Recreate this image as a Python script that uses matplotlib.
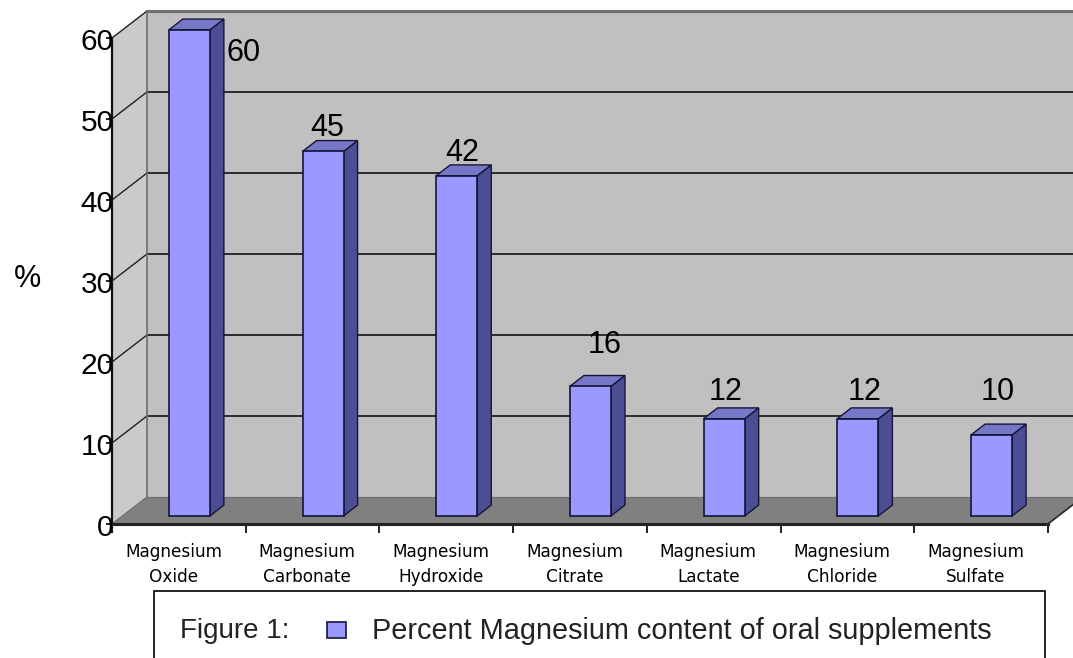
import matplotlib
matplotlib.use("Agg")
import matplotlib.pyplot as plt
from matplotlib.patches import Polygon, Rectangle

# ---------------- data ----------------
categories = ["Magnesium\nOxide", "Magnesium\nCarbonate", "Magnesium\nHydroxide",
              "Magnesium\nCitrate", "Magnesium\nLactate", "Magnesium\nChloride",
              "Magnesium\nSulfate"]
values = [60, 45, 42, 16, 12, 12, 10]
yticks = [0, 10, 20, 30, 40, 50, 60]
ylabel = "%"
legend_title = "Figure 1:"
legend_label = "Percent Magnesium content of oral supplements"

# ---------------- style ----------------
W, H = 1073, 658
PX0, PY0 = 112, 524          # pixel of (category 0, value 0)
PX_PER_CAT = 133.7
PX_PER_VAL = 8.1
DEPTH_PX = (35, 27)
DX = DEPTH_PX[0] / PX_PER_CAT
DY = DEPTH_PX[1] / PX_PER_VAL
BAR_W = 0.307
F0, F1 = 0.30, 0.70
YMAX = 60

C_BACK = "#c0c0c0"
C_LEFT = "#cacaca"
C_FLOOR = "#808080"
C_FRONT = "#9999ff"
C_SIDE = "#4d4d94"
C_TOP = "#7777c8"
C_EDGE = "#15153a"
C_GRID = "#202020"

label_offsets = [(54, -23), (4, 23), (5, 23), (14, 41), (1, 27), (7, 27), (6, 43)]

fig = plt.figure(figsize=(W / 100, H / 100), dpi=100)
ax = fig.add_axes([0, 0, 1, 1])
ax.set_xlim(-PX0 / PX_PER_CAT, (W - PX0) / PX_PER_CAT)
ax.set_ylim((PY0 - H) / PX_PER_VAL, PY0 / PX_PER_VAL)
ax.set_axis_off()

n = len(categories)

# back wall
ax.add_patch(Polygon([(DX, DY), (n + DX + 1, DY), (n + DX + 1, YMAX + DY), (DX, YMAX + DY)],
                     closed=True, facecolor=C_BACK, edgecolor="none", zorder=1))
# floor
ax.add_patch(Polygon([(0, 0), (n, 0), (n + DX, DY), (DX, DY)], closed=True,
                     facecolor=C_FLOOR, edgecolor="none", zorder=2))
# left wall
ax.add_patch(Polygon([(0, 0), (DX, DY), (DX, YMAX + DY), (0, YMAX)], closed=True,
                     facecolor=C_LEFT, edgecolor="none", zorder=2))

# gridlines on back wall and left wall
for v in yticks[1:-1]:
    ax.plot([DX, n + DX + 1], [v + DY, v + DY], color=C_GRID, lw=1.3, zorder=3)
for v in yticks[1:]:
    ax.plot([0, DX], [v, v + DY], color=C_GRID, lw=1.0, zorder=3)

# wall edges
ax.plot([DX, n + DX + 1], [YMAX + DY, YMAX + DY], color="#6e6e6e", lw=2.2, zorder=3)
ax.plot([DX, DX], [DY, YMAX + DY], color="#6e6e6e", lw=1.2, zorder=3)
ax.plot([0, DX], [0, DY], color="#707070", lw=1.0, zorder=3)
ax.plot([DX, n + DX], [DY, DY], color="#707070", lw=0.8, zorder=3)
ax.plot([n, n + DX], [0, DY], color="#303030", lw=1.3, zorder=3)
# front axis lines
ax.plot([0, n], [0, 0], color="#202020", lw=2.2, zorder=6)
ax.plot([0, 0], [-1.0, YMAX], color="#101010", lw=1.6, zorder=6)

# category tick marks
for k in range(n + 1):
    ax.plot([k, k], [0, -0.95], color="#202020", lw=1.4, zorder=6)
# value tick marks and labels
for v in yticks:
    ax.plot([-0.035, 0], [v, v], color="#202020", lw=1.4, zorder=6)
    ax.text(0.012, v - 0.5, str(v), ha="right", va="center", fontsize=21.5,
            family="Liberation Sans", color="black", zorder=7)

ax.text(-0.63, 30.2, ylabel, ha="center", va="center", fontsize=22,
        family="Liberation Sans", color="black")

# bars
for i, v in enumerate(values):
    xl = i + 0.5 - BAR_W / 2
    xr = i + 0.5 + BAR_W / 2
    x0, y0 = F0 * DX, F0 * DY
    x1, y1 = F1 * DX, F1 * DY
    front = [(xl + x0, y0), (xr + x0, y0), (xr + x0, v + y0), (xl + x0, v + y0)]
    side = [(xr + x0, y0), (xr + x1, y1), (xr + x1, v + y1), (xr + x0, v + y0)]
    top = [(xl + x0, v + y0), (xr + x0, v + y0), (xr + x1, v + y1), (xl + x1, v + y1)]
    z = 10 + i
    ax.add_patch(Polygon(side, closed=True, facecolor=C_SIDE, edgecolor=C_EDGE, lw=1.0, zorder=z))
    ax.add_patch(Polygon(top, closed=True, facecolor=C_TOP, edgecolor=C_EDGE, lw=1.0, zorder=z))
    ax.add_patch(Polygon(front, closed=True, facecolor=C_FRONT, edgecolor=C_EDGE, lw=1.2, zorder=z))
    dxp, dyp = label_offsets[i]
    ax.annotate(str(v), xy=(i + 0.5 + x0, v + y0), xytext=(dxp, dyp),
                textcoords="offset pixels", ha="center", va="center",
                fontsize=22, family="Liberation Sans", color="black", zorder=30)

# category labels
for i, c in enumerate(categories):
    ax.text(i + 0.46, -2.4, c, ha="center", va="top", fontsize=12.2,
            family="DejaVu Sans", color="black", linespacing=1.5, zorder=7)

# legend box (bottom runs off the image)
lx0 = (154 - PX0) / PX_PER_CAT
lx1 = (1045 - PX0) / PX_PER_CAT
ly_top = (PY0 - 591) / PX_PER_VAL
ly_bot = (PY0 - 700) / PX_PER_VAL
ax.add_patch(Rectangle((lx0, ly_bot), lx1 - lx0, ly_top - ly_bot, facecolor="white",
                       edgecolor="black", lw=1.2, zorder=8))
ax.text((180 - PX0) / PX_PER_CAT, (PY0 - 631) / PX_PER_VAL, legend_title, ha="left",
        va="center", fontsize=20, family="Liberation Sans", color="#222222", zorder=9)
mx0 = (327 - PX0) / PX_PER_CAT
mw = 19 / PX_PER_CAT
my0 = (PY0 - 638) / PX_PER_VAL
mh = 16 / PX_PER_VAL
ax.add_patch(Rectangle((mx0, my0), mw, mh, facecolor=C_FRONT, edgecolor=C_EDGE, lw=1.2, zorder=9))
ax.text((372 - PX0) / PX_PER_CAT, (PY0 - 631) / PX_PER_VAL, legend_label, ha="left",
        va="center", fontsize=20.8, family="Liberation Sans", color="#222222", zorder=9)

fig.savefig("out.png", dpi=100)
